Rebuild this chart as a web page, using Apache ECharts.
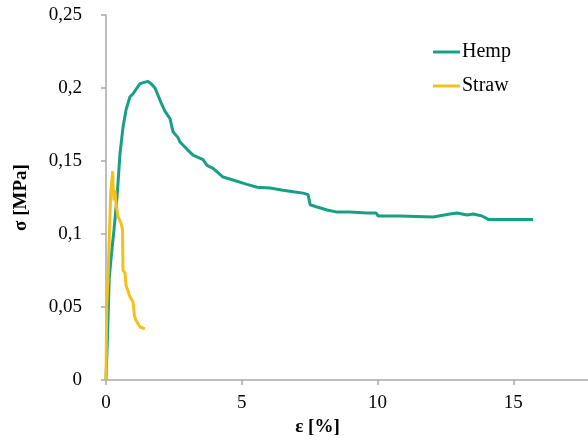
<!DOCTYPE html>
<html>
<head>
<meta charset="utf-8">
<script src="https://cdn.jsdelivr.net/npm/echarts@6/dist/echarts.min.js"></script>
<style>
  html, body { margin: 0; padding: 0; background: #fff; }
  #chart { width: 588px; height: 447px; }
</style>
</head>
<body>
<div id="chart"></div>
<script>
// Stress–strain curves: strain ε in %, stress σ in MPa
const seriesNames = ['Hemp', 'Straw'];

const hempStrain = [0, 0.05, 0.12, 0.2, 0.295, 0.405, 0.516, 0.626, 0.737, 0.884, 0.995, 1.105, 1.253, 1.437,
  1.548, 1.658, 1.805, 1.916, 2.027, 2.174, 2.358, 2.469, 2.653, 2.727, 2.985, 3.206, 3.574, 3.721, 3.942,
  4.311, 4.679, 5.195, 5.564, 6.043, 6.522, 6.89, 7.259, 7.443, 7.517, 7.775, 8.143, 8.512, 8.99, 9.617,
  9.95, 10.02, 10.83, 12.05, 12.67, 12.93, 13.3, 13.52, 13.85, 14.08, 14.52, 15.73];
const hempStress = [0, 0.027, 0.070, 0.086, 0.103, 0.125, 0.155, 0.173, 0.185, 0.194, 0.196, 0.199, 0.203, 0.204,
  0.2045, 0.203, 0.200, 0.195, 0.190, 0.184, 0.179, 0.170, 0.166, 0.163, 0.158, 0.154, 0.151, 0.147, 0.145,
  0.139, 0.137, 0.134, 0.132, 0.1315, 0.130, 0.129, 0.128, 0.127, 0.120, 0.1185, 0.1164, 0.115, 0.115, 0.1144,
  0.1144, 0.1123, 0.1123, 0.1116, 0.1137, 0.1144, 0.113, 0.1137, 0.1123, 0.110, 0.110, 0.110];

const strawStrain = [0, 0.026, 0.074, 0.147, 0.173, 0.21, 0.247, 0.258, 0.295, 0.33, 0.368, 0.442, 0.553, 0.608,
  0.626, 0.70, 0.737, 0.81, 0.884, 0.995, 1.05, 1.105, 1.253, 1.363, 1.437];
const strawStress = [0, 0.050, 0.0705, 0.112, 0.128, 0.1356, 0.143, 0.135, 0.123, 0.130, 0.121, 0.112, 0.1075, 0.103,
  0.0753, 0.0733, 0.065, 0.0637, 0.0568, 0.0534, 0.0438, 0.041, 0.0363, 0.0356, 0.035];

// Axis ticks
const xTicks = [0, 5, 10, 15, 20];
const yTicks = [0, 0.05, 0.1, 0.15, 0.2, 0.25];

const colors = ['#17a086', '#f4c01c'];
const serif = 'Liberation Serif';

function pairs(xs, ys) { return xs.map((x, i) => [x, ys[i]]); }

const chart = echarts.init(document.getElementById('chart'), null, { renderer: 'canvas' });
chart.setOption({
  animation: false,
  backgroundColor: '#ffffff',
  color: colors,
  grid: { left: 106, top: 15, bottom: 67, right: -61, containLabel: false, outerBoundsMode: 'none' },
  legend: {
    orient: 'vertical',
    left: 433,
    top: 42,
    padding: 0,
    icon: 'rect',
    itemWidth: 27,
    itemHeight: 3,
    itemGap: 14,
    data: seriesNames,
    textStyle: { fontFamily: serif, fontSize: 20, color: '#000', padding: [0, 0, 0, -3] }
  },
  xAxis: {
    type: 'value',
    min: xTicks[0],
    max: xTicks[xTicks.length - 1],
    interval: xTicks[1] - xTicks[0],
    name: 'ε [%]',
    nameLocation: 'middle',
    nameGap: 36,
    nameTextStyle: { fontFamily: serif, fontSize: 19, fontWeight: 'bold', color: '#000', padding: [0, 120, 0, 0] },
    axisLine: { show: true, lineStyle: { color: '#a8a8a8', width: 1.5 } },
    axisTick: { show: true, length: 5, lineStyle: { color: '#a8a8a8', width: 1.5 } },
    axisLabel: { margin: 14, fontFamily: serif, fontSize: 19, color: '#000' },
    splitLine: { show: false }
  },
  yAxis: {
    type: 'value',
    min: yTicks[0],
    max: yTicks[yTicks.length - 1],
    interval: yTicks[1] - yTicks[0],
    name: 'σ [MPa]',
    nameLocation: 'middle',
    nameGap: 75,
    nameRotate: 90,
    nameTextStyle: { fontFamily: serif, fontSize: 19, fontWeight: 'bold', color: '#000' },
    axisLine: { show: true, lineStyle: { color: '#a8a8a8', width: 1.5 } },
    axisTick: { show: true, length: 5, lineStyle: { color: '#a8a8a8', width: 1.5 } },
    axisLabel: {
      margin: 24, fontFamily: serif, fontSize: 19, color: '#000',
      formatter: v => String(+v.toFixed(2)).replace('.', ',')
    },
    splitLine: { show: false }
  },
  series: [
    {
      name: seriesNames[0], type: 'line', data: pairs(hempStrain, hempStress),
      showSymbol: false, symbol: 'none', smooth: false,
      lineStyle: { width: 3, color: colors[0] }, itemStyle: { color: colors[0] }
    },
    {
      name: seriesNames[1], type: 'line', data: pairs(strawStrain, strawStress),
      showSymbol: false, symbol: 'none', smooth: false,
      lineStyle: { width: 3, color: colors[1] }, itemStyle: { color: colors[1] }
    }
  ]
});
</script>
</body>
</html>
